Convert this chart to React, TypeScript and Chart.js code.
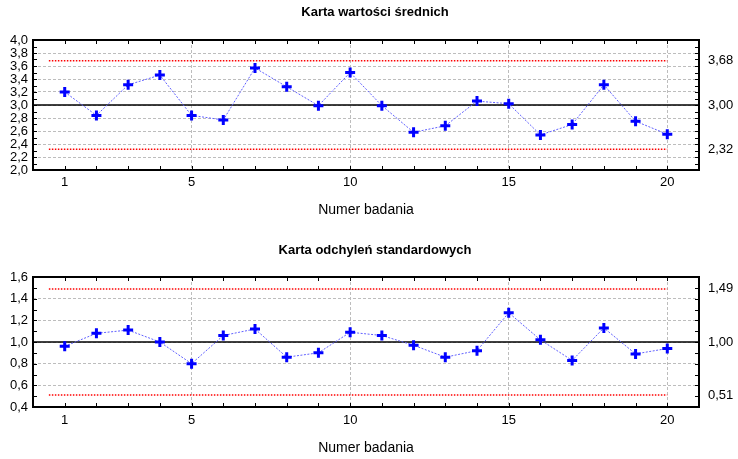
import React, { useEffect, useRef } from "react";
import { Chart, registerables } from "chart.js";

Chart.register(...registerables);

// ---- data ----
const SAMPLES = [1, 2, 3, 4, 5, 6, 7, 8, 9, 10, 11, 12, 13, 14, 15, 16, 17, 18, 19, 20];
const MEANS = [3.2, 2.84, 3.31, 3.46, 2.84, 2.77, 3.57, 3.28, 2.99, 3.5, 2.99, 2.58, 2.68, 3.06, 3.02, 2.54, 2.7, 3.31, 2.75, 2.55];
const SDS = [0.96, 1.08, 1.11, 1.0, 0.8, 1.06, 1.12, 0.86, 0.9, 1.09, 1.06, 0.97, 0.86, 0.92, 1.27, 1.02, 0.83, 1.13, 0.89, 0.94];
const MEAN_LIMITS = [2.32, 3.0, 3.68]; // LCL, CL, UCL
const SD_LIMITS = [0.51, 1.0, 1.49];
const MEAN_Y_TICKS = [2.0, 2.2, 2.4, 2.6, 2.8, 3.0, 3.2, 3.4, 3.6, 3.8, 4.0];
const SD_Y_TICKS = [0.4, 0.6, 0.8, 1.0, 1.2, 1.4, 1.6];
const X_TICKS = [1, 5, 10, 15, 20];
const X_RANGE = [0, 21];
const LIMIT_SPAN = [0.5, 20];
const TITLES = ["Karta wartości średnich", "Karta odchyleń standardowych"];
const X_TITLE = "Numer badania";

const FONT = "'Liberation Sans', Arial, Helvetica, sans-serif";
Chart.defaults.font.family = FONT;
Chart.defaults.color = "#000";

const comma = (v: number, d: number) => v.toFixed(d).replace(".", ",");

const framePlugin = {
  id: "frame",
  afterDatasetsDraw(chart: any) {
    const { ctx, chartArea, scales } = chart;
    const { left, right, top, bottom } = chartArea;
    const x = scales.x;
    const y = scales.y;
    const len = 4;
    ctx.save();
    ctx.strokeStyle = "#000";
    ctx.lineWidth = 1;
    ctx.beginPath();
    for (const v of SAMPLES) {
      const px = Math.round(x.getPixelForValue(v)) + 0.5;
      ctx.moveTo(px, top);
      ctx.lineTo(px, top + len);
      ctx.moveTo(px, bottom);
      ctx.lineTo(px, bottom - len);
    }
    const yt: number[] = chart.options.plugins.frame.yTicks;
    for (let i = 0; i < yt.length; i++) {
      const vals = [yt[i]];
      if (i < yt.length - 1) vals.push((yt[i] + yt[i + 1]) / 2);
      for (const v of vals) {
        const py = Math.round(y.getPixelForValue(v)) + 0.5;
        ctx.moveTo(left - 1, py);
        ctx.lineTo(left + len, py);
        ctx.moveTo(right + 1, py);
        ctx.lineTo(right - len, py);
      }
    }
    ctx.stroke();
    ctx.lineWidth = 2;
    ctx.strokeRect(left, top, right - left, bottom - top);
    ctx.restore();
  },
};

interface Layout {
  height: number;
  titlePadTop: number;
  titlePadBottom: number;
  xHeight: number;
  xTickPad: number;
  xTitlePadBottom: number;
}

const EXTRA_RIGHT = 12;

function makeConfig(
  title: string,
  values: number[],
  limits: number[],
  yTicks: number[],
  L: Layout
): any {
  const series = SAMPLES.map((s, i) => ({ x: s, y: values[i] }));
  const limitLine = (v: number) => [
    { x: LIMIT_SPAN[0], y: v },
    { x: LIMIT_SPAN[1], y: v },
  ];
  const centerLine = [
    { x: X_RANGE[0], y: limits[1] },
    { x: X_RANGE[1], y: limits[1] },
  ];
  const gridGrey = "#bdbdbd";
  return {
    type: "line",
    data: {
      datasets: [
        {
          data: series,
          borderColor: "#6060ff",
          borderWidth: 1,
          borderDash: [2, 1.5],
          pointStyle: "cross",
          pointRadius: 5,
          pointBorderWidth: 3,
          pointBorderColor: "#0000ff",
          pointBackgroundColor: "#0000ff",
          tension: 0,
        },
        {
          data: centerLine,
          borderColor: "#000",
          borderWidth: 1.5,
          pointRadius: 0,
        },
        {
          data: limitLine(limits[2]),
          borderColor: "#ff0000",
          borderWidth: 1.5,
          borderDash: [1.5, 1.5],
          pointRadius: 0,
        },
        {
          data: limitLine(limits[0]),
          borderColor: "#ff0000",
          borderWidth: 1.5,
          borderDash: [1.5, 1.5],
          pointRadius: 0,
        },
      ],
    },
    options: {
      responsive: false,
      animation: false,
      events: [],
      layout: { padding: { left: 0, right: -EXTRA_RIGHT, top: 0, bottom: 0 } },
      plugins: {
        legend: { display: false },
        tooltip: { enabled: false },
        title: {
          display: true,
          text: title,
          color: "#000",
          font: { size: 13, weight: "bold", family: FONT },
          padding: { top: L.titlePadTop, bottom: L.titlePadBottom },
        },
        frame: { yTicks },
      },
      scales: {
        x: {
          type: "linear",
          min: X_RANGE[0],
          max: X_RANGE[1],
          afterBuildTicks: (s: any) => {
            s.ticks = X_TICKS.map((v) => ({ value: v }));
          },
          afterFit: (s: any) => {
            s.height = L.xHeight;
          },
          ticks: {
            padding: L.xTickPad,
            maxRotation: 0,
            autoSkip: false,
            font: { size: 13 },
            color: "#000",
            callback: (v: number) => String(v),
          },
          grid: {
            drawTicks: false,
            color: (c: any) => (c.tick && c.tick.value === X_TICKS[0] ? "rgba(0,0,0,0)" : gridGrey),
            lineWidth: 1,
          },
          border: { display: false, dash: [3, 2] },
          title: {
            display: true,
            text: X_TITLE,
            color: "#000",
            font: { size: 14 },
            padding: { top: 0, bottom: L.xTitlePadBottom },
          },
        },
        y: {
          type: "linear",
          position: "left",
          min: yTicks[0],
          max: yTicks[yTicks.length - 1],
          afterBuildTicks: (s: any) => {
            s.ticks = yTicks.map((v) => ({ value: v }));
          },
          afterFit: (s: any) => {
            s.width = 33;
          },
          ticks: {
            padding: 5,
            autoSkip: false,
            font: { size: 13 },
            color: "#000",
            callback: (v: number) => comma(v, 1),
          },
          grid: { drawTicks: false, color: gridGrey, lineWidth: 1 },
          border: { display: false, dash: [3, 2] },
        },
        y2: {
          type: "linear",
          position: "right",
          min: yTicks[0],
          max: yTicks[yTicks.length - 1],
          afterBuildTicks: (s: any) => {
            s.ticks = limits.map((v) => ({ value: v }));
          },
          afterFit: (s: any) => {
            s.width = 39 + EXTRA_RIGHT;
          },
          ticks: {
            padding: 9,
            autoSkip: false,
            font: { size: 13 },
            color: "#000",
            callback: (v: number) => comma(v, 2),
          },
          grid: { display: false, drawTicks: false },
          border: { display: false },
        },
      },
    },
    plugins: [framePlugin],
  };
}

function ControlChart(props: {
  title: string;
  values: number[];
  limits: number[];
  yTicks: number[];
  layout: Layout;
}) {
  const ref = useRef<HTMLCanvasElement | null>(null);
  useEffect(() => {
    if (!ref.current) return;
    const chart = new Chart(
      ref.current,
      makeConfig(props.title, props.values, props.limits, props.yTicks, props.layout)
    );
    return () => chart.destroy();
  }, []);
  return (
    <canvas
      ref={ref}
      width={738}
      height={props.layout.height}
      style={{ display: "block", width: 738, height: props.layout.height }}
    />
  );
}

const TOP_LAYOUT: Layout = {
  height: 230,
  titlePadTop: 5,
  titlePadBottom: 19.4,
  xHeight: 60,
  xTickPad: 5,
  xTitlePadBottom: 11.6,
};
const BOTTOM_LAYOUT: Layout = {
  height: 229,
  titlePadTop: 13,
  titlePadBottom: 18.4,
  xHeight: 52,
  xTickPad: 6,
  xTitlePadBottom: 2.6,
};

export default function App() {
  return (
    <div style={{ position: "absolute", left: 0, top: 0, width: 738, height: 459, background: "#fff" }}>
      <ControlChart title={TITLES[0]} values={MEANS} limits={MEAN_LIMITS} yTicks={MEAN_Y_TICKS} layout={TOP_LAYOUT} />
      <ControlChart title={TITLES[1]} values={SDS} limits={SD_LIMITS} yTicks={SD_Y_TICKS} layout={BOTTOM_LAYOUT} />
    </div>
  );
}
